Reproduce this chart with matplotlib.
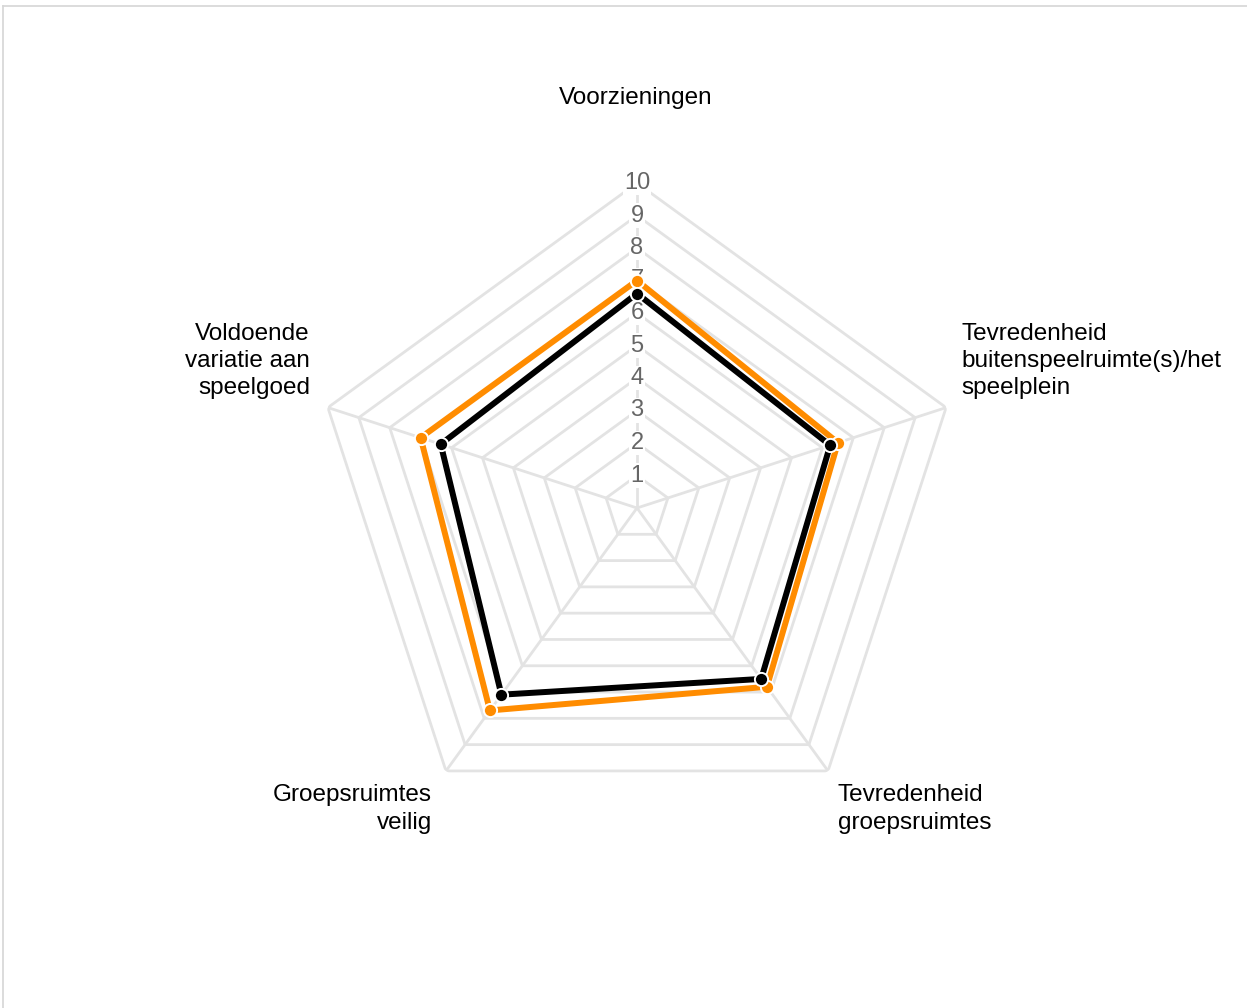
import numpy as np
import matplotlib
matplotlib.use("Agg")
import matplotlib.pyplot as plt
from matplotlib.lines import Line2D

categories = ["Voorzieningen",
              "Tevredenheid\nbuitenspeelruimte(s)/het\nspeelplein",
              "Tevredenheid\ngroepsruimtes",
              "Groepsruimtes\nveilig",
              "Voldoende\nvariatie aan\nspeelgoed"]
series_orange = [7.0, 6.5, 6.8, 7.7, 7.0]
series_black = [6.6, 6.25, 6.5, 7.1, 6.35]
ticks = list(range(1, 11))

W, H = 1247, 1008
fig = plt.figure(figsize=(W / 100, H / 100), dpi=100)
fig.patch.set_facecolor("white")

cx, cy, R = 637, 508, 325
ax = fig.add_axes([(cx - R) / W, (H - cy - R) / H, 2 * R / W, 2 * R / H], projection="polar")
ax.set_theta_zero_location("N")
ax.set_theta_direction(-1)
ax.set_ylim(0, 10)
ax.grid(False)
ax.set_xticks([])
ax.set_yticks([])
ax.spines["polar"].set_visible(False)
ax.patch.set_alpha(0)

n = len(categories)
theta = np.linspace(0, 2 * np.pi, n, endpoint=False)
theta_c = np.append(theta, theta[0])

grid_col = "#e3e3e3"
for t in ticks:
    ax.plot(theta_c, [t] * (n + 1), color=grid_col, lw=2.0, zorder=1, solid_joinstyle="miter")
for th in theta:
    ax.plot([th, th], [0, 10], color=grid_col, lw=2.0, zorder=1)

for t in ticks:
    ax.text(0, t, str(t), ha="center", va="center", color="#666666", fontsize=17,
            family="Liberation Sans", zorder=2,
            bbox=dict(boxstyle="square,pad=0.05", fc="white", ec="none"))

for vals, col, z in [(series_orange, "#ff8c00", 3), (series_black, "#000000", 4)]:
    v = np.append(vals, vals[0])
    ax.plot(theta_c, v, color=col, lw=4.3, zorder=z, solid_joinstyle="miter")
    ax.plot(theta, vals, "o", color=col, ms=9.5, mec="white", mew=1.4, zorder=z + 0.5)

fs = 17.5
kw = dict(fontsize=fs, family="Liberation Sans", color="#000000", linespacing=1.3)
fig.text(636 / W, 1 - 98 / H, categories[0], ha="center", va="center", **kw)
fig.text(961 / W, 1 - 361 / H, categories[1], ha="left", va="center", **kw)
fig.text(838 / W, 1 - 809 / H, categories[2], ha="left", va="center", **kw)
fig.text(432 / W, 1 - 809 / H, categories[3], ha="right", va="center", multialignment="right", **kw)
fig.text(310 / W, 1 - 361 / H, categories[4], ha="right", va="center", multialignment="right", **kw)

fig.add_artist(Line2D([3 / W, 1], [1 - 6 / H, 1 - 6 / H], color="#d6d6d6", lw=1.2))
fig.add_artist(Line2D([3 / W, 3 / W], [0, 1 - 6 / H], color="#d6d6d6", lw=1.2))

fig.savefig("out.png", dpi=100, facecolor="white")
